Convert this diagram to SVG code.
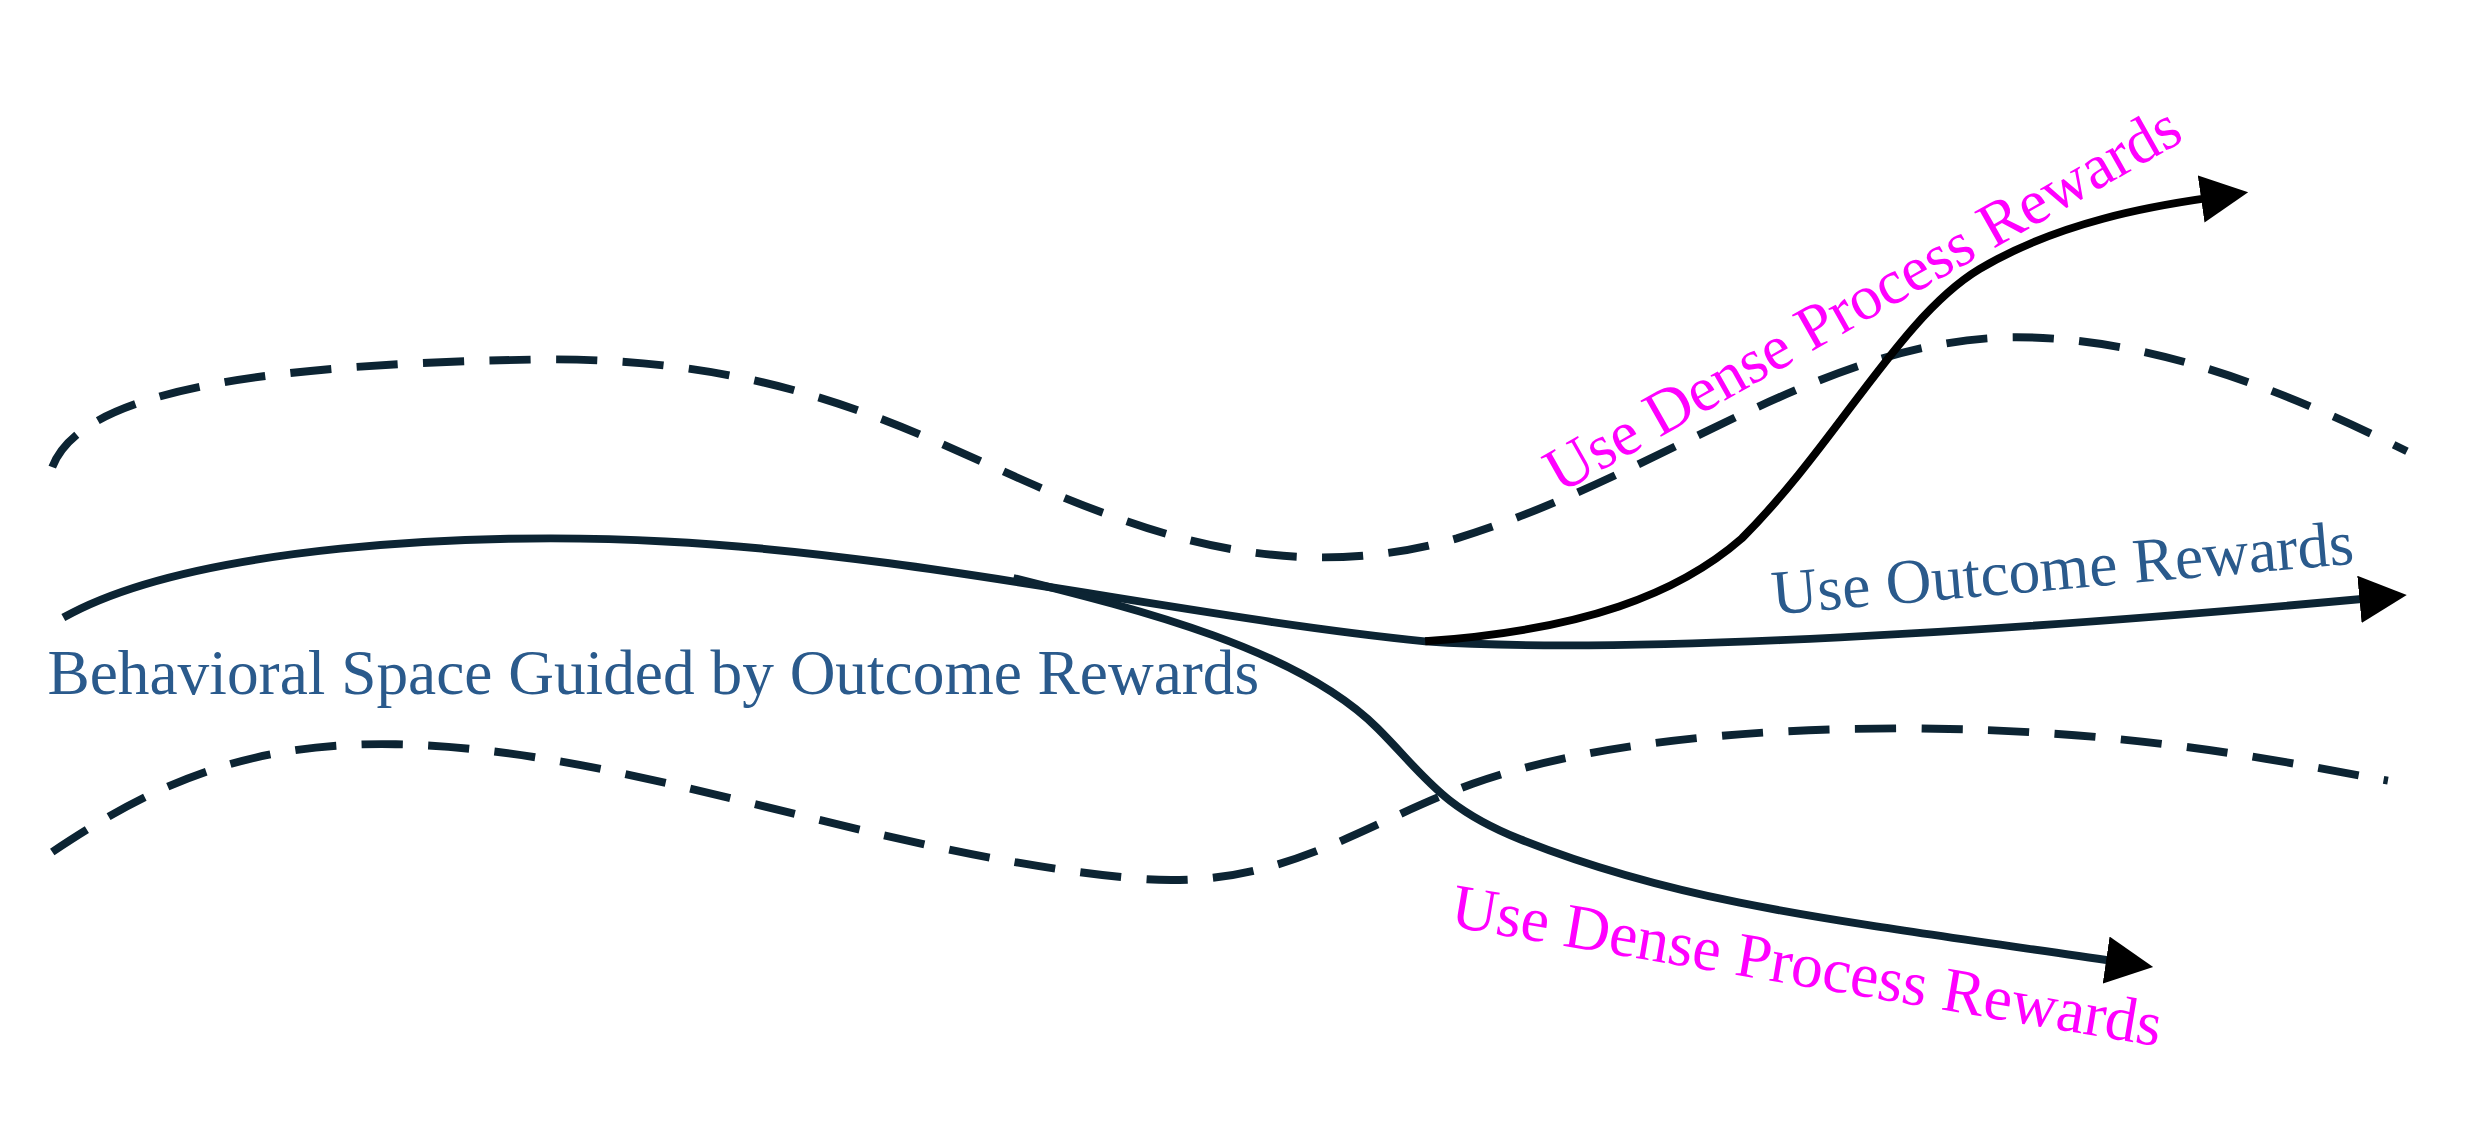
<svg xmlns="http://www.w3.org/2000/svg" width="2475" height="1143" viewBox="0 0 2475 1143">
<style>
.d{fill:none;stroke:#0c2433;stroke-width:5;stroke-dasharray:26,16}
.s{fill:none;stroke:#0c2433;stroke-width:5}
.k{fill:none;stroke:#000;stroke-width:5}
.b{font-family:"Liberation Serif",serif;fill:#2a5a8c;font-size:40px}
.m{font-family:"Liberation Serif",serif;fill:#ff00ff;font-size:40px}
</style>
<defs><marker id="a" markerWidth="6" markerHeight="6" refX="1" refY="3" orient="auto"><path d="M0,0L6,3L0,6z" fill="#000"/></marker></defs>
<rect width="2475" height="1143" fill="#fff"/>
<g transform="scale(1.5835)">
<g id="connectors">
<path class="d" d="M33,295 C50,250 150,230 340,227 C520,225 600,290 700,325 C780,355 850,360 920,340 C1050,300 1150,215 1270,213 C1360,212 1450,250 1520,285"/>
<path class="d" d="M33,538 C90,500 150,468 250,470 C400,473 550,540 720,555 C810,562 860,520 930,495 C1000,470 1100,460 1200,460 C1350,460 1450,483 1508,493"/>
<path class="s" d="M40,390 C120,345 300,335 420,342 C580,350 750,390 900,405 C1000,412 1200,405 1495,378" marker-end="url(#a)"/>
<path class="k" d="M900,405 C1000,398 1060,375 1100,340 C1160,280 1200,200 1250,170 C1300,140 1360,130 1395,125" marker-end="url(#a)"/>
<path class="s" d="M640,365 C720,385 820,410 870,460 C900,490 910,510 960,530 C1060,570 1150,580 1335,607" marker-end="url(#a)"/>
</g>
<g id="label-space"><text class="b" x="30" y="438">Behavioral Space Guided by Outcome Rewards</text></g>
<g id="label-outcome"><text class="b" x="1120" y="388" transform="rotate(-5 1120 388)">Use Outcome Rewards</text></g>
<g id="label-dense-up"><text class="m" x="985" y="312" transform="rotate(-29.5 985 312)">Use Dense Process Rewards</text></g>
<g id="label-dense-down"><text class="m" x="915" y="585" transform="rotate(9.6 915 585)">Use Dense Process Rewards</text></g>
</g>
</svg>
